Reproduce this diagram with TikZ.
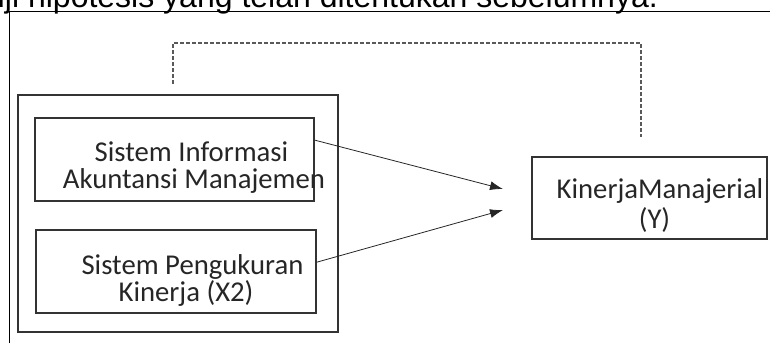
\documentclass[tikz,border=0pt]{standalone}
\usepackage{fontspec}
\setmainfont{Carlito}
\newfontfamily\arialfont{Liberation Sans}
\usetikzlibrary{arrows.meta,calc}
\begin{document}
\begin{tikzpicture}[x=1pt,y=-1pt,
  box/.style={draw=black!80, line width=1.3pt, rectangle, inner sep=0pt},
  lbl/.style={anchor=base, inner sep=0pt, font=\fontsize{28.7}{27}\selectfont, text=black!85},
  link/.style={draw=black!85, line width=0.8pt, -{Latex[length=13pt,width=9pt]}},
  dashlink/.style={draw=black!65, line width=1.2pt, dash pattern=on 4pt off 2pt},
  frame/.style={draw=black, line width=1.3pt}]
\useasboundingbox (0,0) rectangle (770,343);
\node[anchor=base west, inner sep=0pt, font=\arialfont\fontsize{32}{36}\selectfont] (toptext) at (-13,7.5) {uji hipotesis yang telah ditentukan sebelumnya.};
\coordinate (fbl) at (9.5,343);
\coordinate (ftl) at (9.5,11.7);
\coordinate (ftr) at (770,11.7);
\draw[frame] (fbl) -- (ftl) -- (ftr);

\node[box, minimum width=320pt, minimum height=237pt] (grp) at (178,213.5) {};
\node[box, minimum width=279pt, minimum height=83pt] (b1) at (174.5,159.5) {};
\node[box, minimum width=280pt, minimum height=83pt] (b2) at (176,271.5) {};
\node[box, minimum width=235pt, minimum height=82pt] (yb) at (649.5,198) {};

\node[lbl] (t1a) at (191.5,161.5) {Sistem Informasi};
\node[lbl] (t1b) at (194,188.5) {Akuntansi Manajemen};
\node[lbl] (t2a) at (192.5,274) {Sistem Pengukuran};
\node[lbl] (t2b) at (186,301.5) {Kinerja (X2)};
\node[lbl] (ya) at (660,198) {KinerjaManajerial};
\node[lbl] (yy) at (654.5,228) {(Y)};

\coordinate (a1) at (503,189);
\coordinate (a2) at (503,210);
\draw[link] ($(b1.north east)!0.27!(b1.south east)$) -- (a1);
\draw[link] ($(b2.north east)!0.39!(b2.south east)$) -- (a2);

\coordinate (d1) at (173,84);
\coordinate (dc) at (641,43);
\coordinate (d2) at (641,137);
\draw[dashlink] (d1) |- (dc) -- (d2);
\end{tikzpicture}
\end{document}
